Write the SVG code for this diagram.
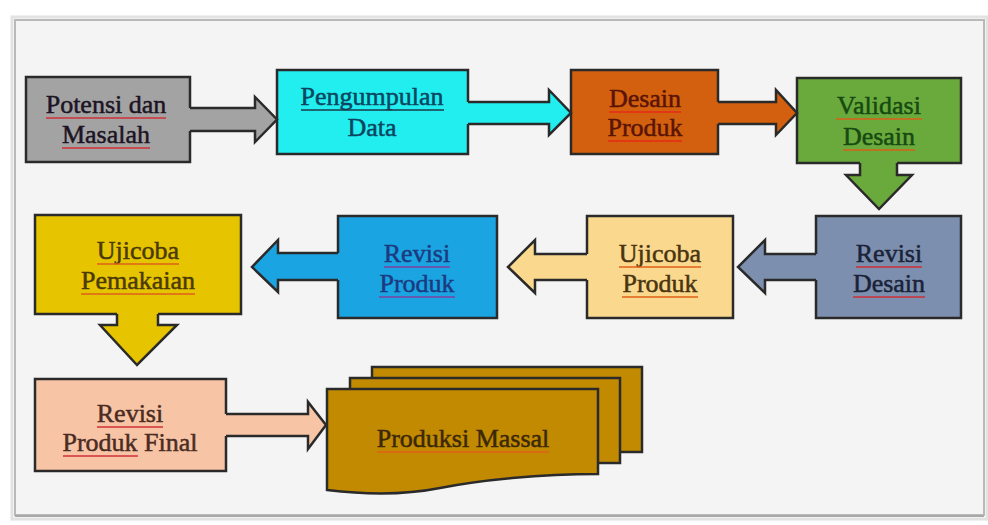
<svg xmlns="http://www.w3.org/2000/svg" width="988" height="525" viewBox="0 0 988 525">
<style>
.box{stroke:#2a2a2a;stroke-width:2.5}
.t{font-family:"Liberation Serif","Times New Roman",serif;font-size:26px;text-anchor:middle;stroke-width:0.5}
.edge{stroke:#2a2a2a;stroke-width:2.5;fill:none;stroke-linejoin:miter}
.ul{stroke-width:1.6;fill:none}
</style>
<rect x="0" y="0" width="988" height="525" fill="#ffffff"/>
<rect x="12" y="17" width="975" height="502" fill="none" stroke="#e2e2e2" stroke-width="3"/>
<rect x="15" y="20" width="969" height="495" fill="#f4f4f4" stroke="#b9b9b9" stroke-width="2"/>
<line x1="15" y1="516" x2="984" y2="516" stroke="#a8a8a8" stroke-width="2"/>

<g id="n1">
<rect class="box" x="26" y="77" width="164" height="85" fill="#a3a3a3"/>
<text class="t" x="106" y="113" fill="#1c1424" stroke="#1c1424">Potensi dan</text>
<text class="t" x="106" y="143" fill="#1c1424" stroke="#1c1424">Masalah</text>
<path class="ul" stroke="#d03038" d="M46,118 H166 M62,148 H150"/>
</g>
<g id="n2">
<rect class="box" x="277" y="70" width="191" height="84" fill="#22eef0"/>
<text class="t" x="372" y="105" fill="#0b4660" stroke="#0b4660">Pengumpulan</text>
<text class="t" x="372" y="136" fill="#0b4660" stroke="#0b4660">Data</text>
<path class="ul" stroke="#1a3a4a" d="M301,110 H444"/>
</g>
<g id="n3">
<rect class="box" x="571" y="70" width="147" height="84" fill="#d2600e"/>
<text class="t" x="645" y="107" fill="#5a1405" stroke="#5a1405">Desain</text>
<text class="t" x="645" y="136" fill="#5a1405" stroke="#5a1405">Produk</text>
<path class="ul" stroke="#e82818" d="M609,112 H681 M608,141 H682"/>
</g>
<g id="n4">
<rect class="box" x="797" y="78" width="164" height="85" fill="#6aaa3c"/>
<text class="t" x="879" y="114" fill="#164a12" stroke="#164a12">Validasi</text>
<text class="t" x="879" y="145" fill="#164a12" stroke="#164a12">Desain</text>
<path class="ul" stroke="#d86018" d="M836,119 H922 M843,150 H915"/>
</g>
<g id="n5">
<rect class="box" x="816" y="216" width="145" height="102" fill="#7d8fae"/>
<text class="t" x="889" y="262" fill="#1a2238" stroke="#1a2238">Revisi</text>
<text class="t" x="889" y="292" fill="#1a2238" stroke="#1a2238">Desain</text>
<path class="ul" stroke="#d03038" d="M856,267 H922 M853,297 H925"/>
</g>
<g id="n6">
<rect class="box" x="587" y="216" width="146" height="102" fill="#fad98e"/>
<text class="t" x="660" y="262" fill="#4a3410" stroke="#4a3410">Ujicoba</text>
<text class="t" x="660" y="292" fill="#4a3410" stroke="#4a3410">Produk</text>
<path class="ul" stroke="#e06018" d="M619,267 H701 M622,297 H698"/>
</g>
<g id="n7">
<rect class="box" x="338" y="216" width="159" height="102" fill="#1aa4e2"/>
<text class="t" x="417" y="262" fill="#1c3a80" stroke="#1c3a80">Revisi</text>
<text class="t" x="417" y="292" fill="#1c3a80" stroke="#1c3a80">Produk</text>
<path class="ul" stroke="#8040a0" d="M384,267 H450 M379,297 H455"/>
</g>
<g id="n8">
<rect class="box" x="35" y="215" width="206" height="99" fill="#e6c400"/>
<text class="t" x="138" y="259" fill="#4a3a08" stroke="#4a3a08">Ujicoba</text>
<text class="t" x="138" y="289" fill="#4a3a08" stroke="#4a3a08">Pemakaian</text>
<path class="ul" stroke="#e06018" d="M97,264 H179 M81,294 H195"/>
</g>
<g id="n9">
<rect class="box" x="35" y="379" width="191" height="92" fill="#f8c4a6"/>
<text class="t" x="130" y="422" fill="#4a2c22" stroke="#4a2c22">Revisi</text>
<text class="t" x="130" y="451" fill="#4a2c22" stroke="#4a2c22">Produk Final</text>
<path class="ul" stroke="#d03038" d="M97,427 H163 M63,456 H138"/>
</g>
<g id="n10">
<rect class="box" x="372" y="367" width="270" height="85" fill="#c28a00" stroke="#3a2a00"/>
<rect class="box" x="350" y="378" width="270" height="85" fill="#c28a00" stroke="#3a2a00"/>
<path class="box" stroke="#3a2a00" fill="#c28a00" d="M327,389 H598 V474 C540,474 480,480 440,488 C400,496 360,494 327,490 Z"/>
<text class="t" x="463" y="447" fill="#3a2808" stroke="#3a2808">Produksi Massal</text>
<path class="ul" stroke="#e06018" d="M377,452 H549"/>
</g>

<g id="connectors">
<polygon fill="#a3a3a3" points="188,108 255,108 255,97 277,119.5 255,142 255,131 188,131"/>
<polyline class="edge" points="190,108 255,108 255,97 277,119.5 255,142 255,131 190,131"/>
<polygon fill="#22eef0" points="466,102 549,102 549,90 571,113 549,135 549,124 466,124"/>
<polyline class="edge" points="468,102 549,102 549,90 571,113 549,135 549,124 468,124"/>
<polygon fill="#d2600e" points="716,102 776,102 776,90 797,113 776,135 776,124 716,124"/>
<polyline class="edge" points="718,102 776,102 776,90 797,113 776,135 776,124 718,124"/>
<polygon fill="#6aaa3c" points="860,161 860,175 846,175 879,209 912,175 897,175 897,161"/>
<polyline class="edge" points="860,163 860,175 846,175 879,209 912,175 897,175 897,163"/>
<polygon fill="#7d8fae" points="818,254 765,254 765,240 738,267 765,293 765,280 818,280"/>
<polyline class="edge" points="816,254 765,254 765,240 738,267 765,293 765,280 816,280"/>
<polygon fill="#fad98e" points="589,254 535,254 535,240 508,267 535,293 535,280 589,280"/>
<polyline class="edge" points="587,254 535,254 535,240 508,267 535,293 535,280 587,280"/>
<polygon fill="#1aa4e2" points="340,253 278,253 278,240 252,267 278,292 278,280 340,280"/>
<polyline class="edge" points="338,253 278,253 278,240 252,267 278,292 278,280 338,280"/>
<polygon fill="#e6c400" points="117,312 117,325 100,325 137,365 177,325 158,325 158,312"/>
<polyline class="edge" points="117,314 117,325 100,325 137,365 177,325 158,325 158,314"/>
<polygon fill="#f8c4a6" points="224,414 308,414 308,402 326,425 308,449 308,436 224,436"/>
<polyline class="edge" points="226,414 308,414 308,402 326,425 308,449 308,436 226,436"/>
</g>
</svg>
